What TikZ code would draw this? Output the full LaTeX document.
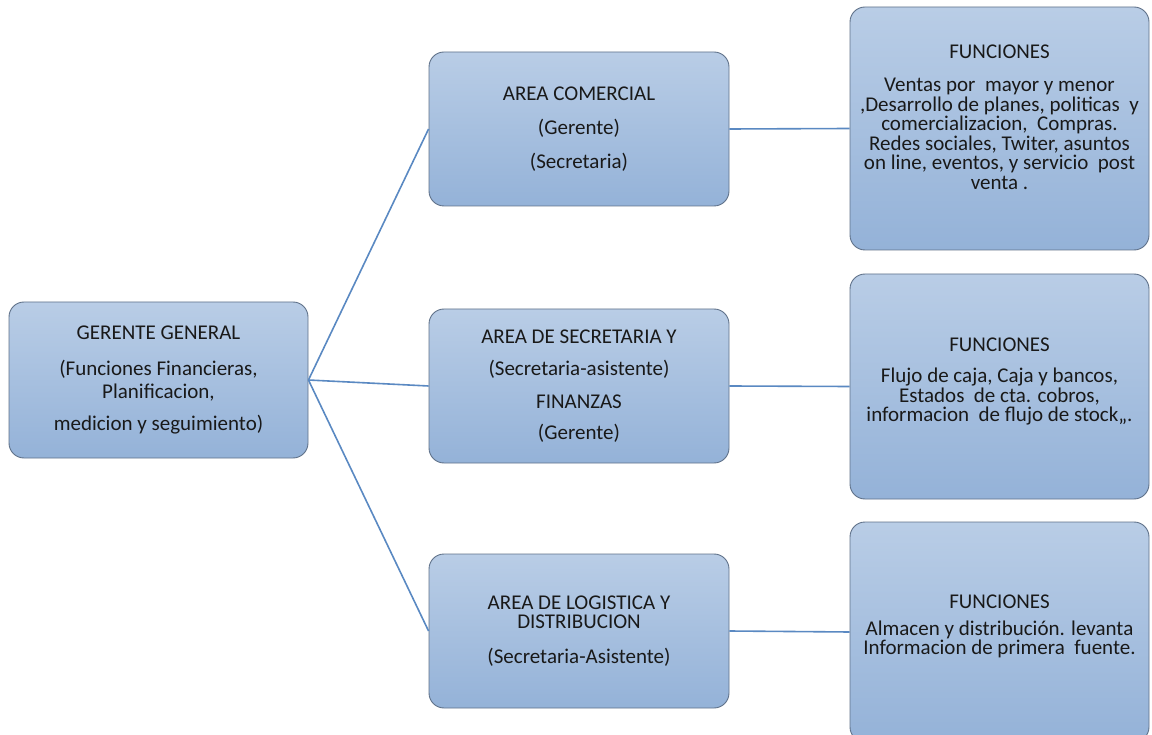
\documentclass[tikz,border=0pt]{standalone}
\usepackage{fontspec}
\setmainfont{Carlito}
\definecolor{boxtop}{HTML}{B9CDE6}
\definecolor{boxbot}{HTML}{94B2D8}
\definecolor{boxedge}{HTML}{5F7189}
\definecolor{linkblue}{HTML}{5A89C2}
\tikzset{
	area/.style={draw=boxedge, line width=0.9pt, rounded corners=15pt,
		top color=boxtop, bottom color=boxbot, align=center,
		text=black!90, font=\fontsize{21}{19.5}\selectfont},
	funtext/.style={align=center, text=black!90, font=\fontsize{21}{19.5}\selectfont},
	link/.style={draw=linkblue, line width=1.6pt}
}
\begin{document}
\begin{tikzpicture}[x=1pt,y=-1pt]
	\useasboundingbox (0,0) rectangle (1152,735);
	\clip (0,0) rectangle (1152,735);

	\node[area, minimum width=299pt, minimum height=156pt] (g) at (158.5,380)
		{GERENTE GENERAL\\[17pt](Funciones Financieras,\\[3.5pt]Planificacion,\\[12.5pt]medicion y seguimiento)};

	\node[area, minimum width=300pt, minimum height=154pt] (a1) at (579,129)
		{AREA COMERCIAL\\[14.5pt](Gerente)\\[14.5pt](Secretaria)};
	\node[area, minimum width=300pt, minimum height=154pt] (a2) at (579,386)
		{AREA DE SECRETARIA Y\\[13pt](Secretaria-asistente)\\[13pt]FINANZAS\\[12pt](Gerente)};
	\node[area, minimum width=300pt, minimum height=154pt] (a3) at (579,631)
		{AREA DE LOGISTICA Y\\DISTRIBUCION\\[15.5pt](Secretaria-Asistente)};

	\node[area, minimum width=299pt, minimum height=243pt] (f1) at (999.5,128.5) {};
	\node[area, minimum width=299pt, minimum height=225pt] (f2) at (999.5,386.5) {};
	\node[area, minimum width=299pt, minimum height=220pt] (f3) at (999.5,632) {};

	\node[funtext] (f1t) at ([yshift=11pt]f1.center)
		{FUNCIONES\\[13.5pt]Ventas por~ mayor y menor\\,Desarrollo de planes, politicas~ y\\comercializacion,~ Compras.\\Redes sociales, Twiter, asuntos\\on line, eventos, y servicio~ post\\venta .};
	\node[funtext] (f2t) at ([yshift=5pt]f2.center)
		{FUNCIONES\\[11.5pt]Flujo de caja, Caja y bancos,\\Estados~ de cta. cobros,\\informacion~ de flujo de stock,,.};
	\node[funtext] (f3t) at ([yshift=5.5pt]f3.center)
		{FUNCIONES\\[7.5pt]Almacen y distribución. levanta\\Informacion de primera~ fuente.};

	\foreach \n in {a1,a2,a3}
		\draw[link] (g.east) -- (\n.west);
	\foreach \n/\m in {a1/f1,a2/f2,a3/f3}
		\draw[link] (\n.east) -- (\m.west);
\end{tikzpicture}
\end{document}
